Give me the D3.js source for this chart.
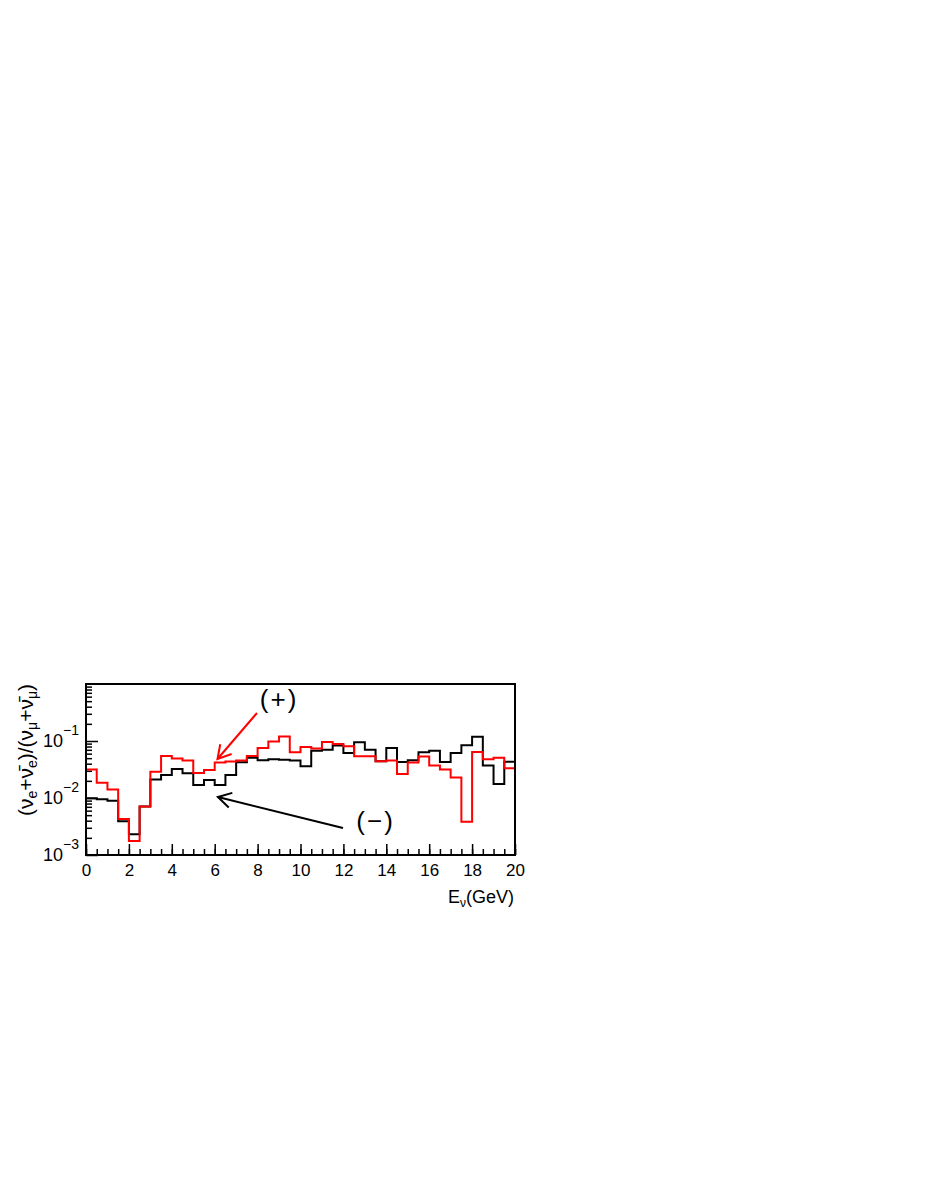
<!DOCTYPE html>
<html>
<head>
<meta charset="utf-8">
<script src="https://cdn.jsdelivr.net/npm/d3@7"></script>
<style>
    body { margin: 0; background: #fff; }
    text { font-family: "Liberation Sans", Arial, Helvetica, sans-serif; fill: #000; }
</style>
</head>
<body>
<div id="chart"></div>
<script>
// 40 bins of 0.5 GeV from 0 to 20
var binWidth = 0.5;
var xTickLabels = [0, 2, 4, 6, 8, 10, 12, 14, 16, 18, 20];
var yDecades = [-3, -2, -1];

// (+) polarity, red
var ratioPlus = [
    0.0316, 0.0185, 0.0141, 0.0043, 0.00176, 0.0071, 0.0289, 0.0546, 0.0493, 0.0455,
    0.0275, 0.0310, 0.0420, 0.0437, 0.0455, 0.0546, 0.0753, 0.098, 0.120, 0.0634,
    0.0785, 0.0738, 0.096, 0.0885, 0.0807, 0.054, 0.054, 0.044, 0.0455, 0.0264,
    0.042, 0.0535, 0.0372, 0.0316, 0.0229, 0.00384, 0.0641, 0.0478, 0.0509, 0.0332
];
// (-) polarity, black
var ratioMinus = [
    0.00989, 0.00948, 0.00897, 0.0039, 0.00232, 0.0071, 0.0211, 0.0254, 0.0323, 0.0272,
    0.0169, 0.0207, 0.0169, 0.0254, 0.0423, 0.0509, 0.046, 0.048, 0.0468, 0.0455,
    0.036, 0.0676, 0.0702, 0.0834, 0.0615, 0.0953, 0.0702, 0.044, 0.0753, 0.0429,
    0.0458, 0.0634, 0.0676, 0.0429, 0.0615, 0.0841, 0.119, 0.0372, 0.0176, 0.0434
];
// underflow / overflow levels drawn at the frame edges
var plusEdges = [1, 0.0213];
var minusEdges = [0.001, 0.0434];

// annotations: [GeV, ratio]
var plusArrow = [[7.97, 0.31], [6.13, 0.0483]];
var minusArrow = [[11.98, 0.00298], [6.15, 0.0104]];
var plusLabel = [9.0, 0.379];
var minusLabel = [13.5, 0.00275];

var W = 926, H = 1199;
var margin = { top: 684, right: 411, bottom: 344, left: 86 },
    width = W - margin.left - margin.right,
    height = H - margin.top - margin.bottom;

var svg = d3.select("#chart").append("svg")
    .attr("width", W)
    .attr("height", H);

var g = svg.append("g")
    .attr("transform", "translate(" + margin.left + "," + margin.top + ")");

var x = d3.scaleLinear().domain([0, 20]).range([0, width]);
var y = d3.scaleLog().domain([1e-3, 1]).range([height, 0]);

g.append("clipPath").attr("id", "frameClip")
    .append("rect").attr("width", width).attr("height", height);

// ticks (inward)
var xMinor = d3.range(0, 20.01, binWidth);
g.append("g")
    .attr("transform", "translate(0," + height + ")")
    .call(d3.axisBottom(x).tickValues(xMinor).tickSize(-6).tickFormat(""))
    .call(function (s) { s.select(".domain").remove(); });
var xAxis = g.append("g")
    .attr("transform", "translate(0," + height + ")")
    .call(d3.axisBottom(x).tickValues(xTickLabels).tickSize(-11).tickPadding(9).tickFormat(d3.format("d")));
xAxis.select(".domain").remove();
xAxis.selectAll("text").style("font-size", "17px")
    .style("font-family", "'Liberation Sans', Arial, sans-serif");

var yMinor = [];
yDecades.forEach(function (e) {
    for (var m = 2; m <= 9; m++) yMinor.push(m * Math.pow(10, e));
});
g.append("g")
    .call(d3.axisLeft(y).tickValues(yMinor).tickSize(-6).tickFormat(""))
    .call(function (s) { s.select(".domain").remove(); });
g.append("g")
    .call(d3.axisLeft(y).tickValues([1e-3, 1e-2, 1e-1]).tickSize(-12).tickFormat(""))
    .call(function (s) { s.select(".domain").remove(); });
g.selectAll(".tick line").attr("stroke-width", 1.5);

// y labels 10^e
yDecades.forEach(function (e) {
    var t = g.append("text")
        .attr("x", -7)
        .attr("y", y(Math.pow(10, e)) + 6)
        .attr("text-anchor", "end")
        .style("font-size", "18px");
    t.append("tspan").text("10");
    t.append("tspan").attr("dy", -12).style("font-size", "14px").text("\u2212" + Math.abs(e));
});

// step histograms
function stepPoints(vals, edges) {
    var pts = [[0, edges[0]]];
    vals.forEach(function (v, i) { pts.push([i * binWidth, v]); });
    pts.push([vals.length * binWidth, edges[1]]);
    return pts;
}
var line = d3.line()
    .x(function (d) { return x(d[0]); })
    .y(function (d) { return y(d[1]); })
    .curve(d3.curveStepAfter);

var hist = g.append("g").attr("clip-path", "url(#frameClip)");
hist.append("path")
    .attr("d", line(stepPoints(ratioMinus, minusEdges)))
    .attr("fill", "none").attr("stroke", "#000").attr("stroke-width", 2);
hist.append("path")
    .attr("d", line(stepPoints(ratioPlus, plusEdges)))
    .attr("fill", "none").attr("stroke", "#ff0000").attr("stroke-width", 2);

// frame
g.append("rect")
    .attr("width", width).attr("height", height)
    .attr("fill", "none").attr("stroke", "#000").attr("stroke-width", 2);

// arrows
function arrow(pts, color) {
    var x0 = x(pts[0][0]), y0 = y(pts[0][1]);
    var x1 = x(pts[1][0]), y1 = y(pts[1][1]);
    var a = Math.atan2(y0 - y1, x0 - x1), len = 15, spread = Math.PI / 6;
    g.append("line")
        .attr("x1", x0).attr("y1", y0).attr("x2", x1).attr("y2", y1)
        .attr("stroke", color).attr("stroke-width", 2);
    g.append("polyline")
        .attr("points", [
            [x1 + len * Math.cos(a - spread), y1 + len * Math.sin(a - spread)],
            [x1, y1],
            [x1 + len * Math.cos(a + spread), y1 + len * Math.sin(a + spread)]
        ].join(" "))
        .attr("fill", "none").attr("stroke", color).attr("stroke-width", 2);
}
arrow(plusArrow, "#ff0000");
arrow(minusArrow, "#000");

g.append("text")
    .attr("x", x(plusLabel[0])).attr("y", y(plusLabel[1]))
    .attr("text-anchor", "middle")
    .style("font-size", "26px").style("letter-spacing", "2px")
    .text("(+)");
g.append("text")
    .attr("x", x(minusLabel[0])).attr("y", y(minusLabel[1]))
    .attr("text-anchor", "middle")
    .style("font-size", "26px").style("letter-spacing", "2px")
    .text("(\u2212)");

// axis titles
var xt = g.append("text")
    .attr("x", width - 1).attr("y", height + 48)
    .attr("text-anchor", "end")
    .style("font-size", "18px");
xt.append("tspan").text("E");
xt.append("tspan").attr("dy", 4).style("font-size", "12px").text("\u03bd");
xt.append("tspan").attr("dy", -4).text("(GeV)");

var yt = g.append("text")
    .attr("transform", "translate(" + (33 - margin.left) + ",0)rotate(-90)")
    .attr("text-anchor", "end")
    .style("font-size", "21px");
var parts = [
    ["(\u03bd", 0], ["e", 1], ["+\u03bd\u0304", 0], ["e", 1], [")/(\u03bd", 0],
    ["\u03bc", 1], ["+\u03bd\u0304", 0], ["\u03bc", 1], [")", 0]
];
var prev = 0;
parts.forEach(function (p) {
    yt.append("tspan")
        .attr("dy", (p[1] - prev) * 4)
        .style("font-size", p[1] ? "14px" : "21px")
        .text(p[0]);
    prev = p[1];
});
</script>
</body>
</html>
